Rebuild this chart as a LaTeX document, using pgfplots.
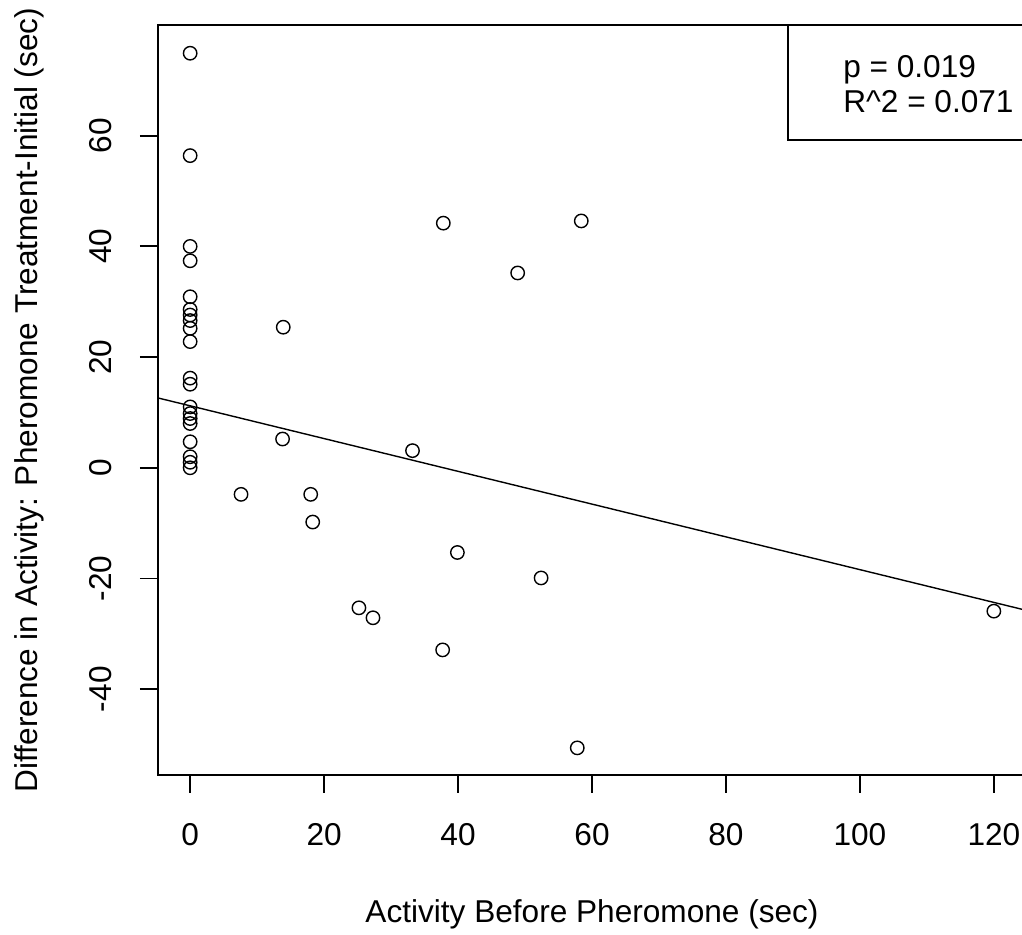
\documentclass[border=0pt]{standalone}
\usepackage{pgfplots}
\pgfplotsset{compat=1.18}
\usepackage{fontspec}
\setmainfont{Liberation Sans}
\begin{document}
\fontsize{15.8}{19}\selectfont
\begin{tikzpicture}
\begin{axis}[name=ax, scale only axis, width=434pt, height=375pt,
  xmin=-4.8, xmax=124.8, ymin=-55.5, ymax=80,
  xtick={0,20,...,120}, ytick={-40,-20,...,60},
  xtick pos=bottom, ytick pos=left,
  tick align=outside, major tick length=9pt,
  axis line style={line width=0.9pt, black},
  every tick/.style={line width=0.9pt, black},
  /pgf/number format/assume math mode=true,
  ticklabel style={font=\fontsize{15.8}{19}\selectfont},
  xticklabel style={anchor=base, yshift=-26.5pt},
  yticklabel style={xshift=-14pt, rotate=90, anchor=base},
  clip=true]
\addplot[only marks, mark=o, mark size=3.35pt, mark options={line width=0.7pt, black}] coordinates {
(0,74.9) (0,56.4) (0,40.0) (0,37.4) (0,30.9) (0,28.6) (0,27.6) (0,26.6) (0,25.2) (0,22.8)
(0,16.2) (0,15.1) (0,11.0) (0,9.8) (0,8.9) (0,8.0) (0,4.7) (0,2.0) (0,1.0) (0,0.0)
(7.6,-4.8) (13.9,25.4) (13.8,5.2) (18.0,-4.8) (18.3,-9.8) (25.2,-25.3) (27.3,-27.1)
(33.2,3.1) (37.8,44.2) (37.7,-32.9) (39.9,-15.3) (48.9,35.2) (52.4,-19.9)
(57.8,-50.6) (58.4,44.6) (120,-25.9)
};
\addplot[no marks, line width=0.7pt, black] coordinates {(-4.8,12.62) (124.8,-25.74)};
\draw[line width=0.8pt, black] (axis cs:89.25,59.2) rectangle (rel axis cs:1,1);
\node[anchor=base west, inner sep=0pt] at (axis cs:97.46,70.6) {p = 0.019};
\node[anchor=base west, inner sep=0pt] at (axis cs:97.46,64.15) {R\textasciicircum 2 = 0.071};
\end{axis}
\node[anchor=base, inner sep=0pt] at ([yshift=-73.8pt]ax.south) {Activity Before Pheromone (sec)};
\node[rotate=90, anchor=base, inner sep=0pt] at ([xshift=-60pt]ax.west) {Difference in Activity: Pheromone Treatment-Initial (sec)};
\pgfresetboundingbox
\useasboundingbox ([shift={(-79pt,-80pt)}]ax.south west) rectangle ([shift={(432pt,12.5pt)}]ax.north west);
\end{tikzpicture}
\end{document}
